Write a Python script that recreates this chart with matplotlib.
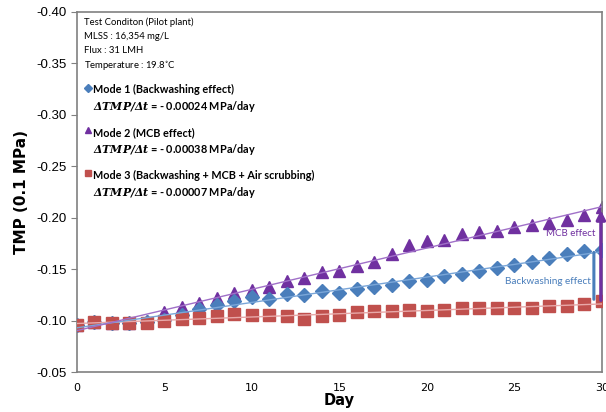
import numpy as np
import matplotlib.pyplot as plt

plt.rcParams['mathtext.fontset'] = 'dejavuserif'

days = list(range(31))
# TMP readings (0.1 MPa)
mode1 = [-0.096, -0.099, -0.098, -0.098, -0.099, -0.101, -0.105, -0.111, -0.115, -0.119,
         -0.123, -0.121, -0.126, -0.125, -0.129, -0.127, -0.131, -0.133, -0.135, -0.138,
         -0.139, -0.143, -0.145, -0.148, -0.151, -0.154, -0.157, -0.161, -0.165, -0.168, -0.169]
mode2 = [-0.096, -0.099, -0.098, -0.098, -0.100, -0.108, -0.113, -0.117, -0.122, -0.127,
         -0.130, -0.133, -0.138, -0.141, -0.147, -0.148, -0.153, -0.157, -0.165, -0.173,
         -0.177, -0.178, -0.184, -0.186, -0.187, -0.191, -0.193, -0.195, -0.198, -0.203, -0.210]
mode3 = [-0.096, -0.099, -0.098, -0.098, -0.098, -0.100, -0.102, -0.103, -0.104, -0.106,
         -0.105, -0.105, -0.104, -0.102, -0.104, -0.105, -0.108, -0.109, -0.109, -0.110,
         -0.109, -0.110, -0.112, -0.112, -0.112, -0.112, -0.112, -0.114, -0.114, -0.116, -0.119]

info = ['Test Conditon (Pilot plant)', 'MLSS : 16,354 mg/L', 'Flux : 31 LMH', 'Temperature : 19.8$^{\\circ}$C']
modes = ['Mode 1 (Backwashing effect)', 'Mode 2 (MCB effect)', 'Mode 3 (Backwashing + MCB + Air scrubbing)']
rates = ['0.00024', '0.00038', '0.00007']

blue, purple, red = '#4a7ebb', '#7030a0', '#c0504d'
blue_l, purple_l, red_l = '#7aa6d8', '#a070c8', '#e8a8a8'
FONT = 'Lato'

fig = plt.figure(figsize=(6.06, 4.12), dpi=100)
ax = fig.add_axes([0.127, 0.097, 0.866, 0.874])

x = np.array(days)
for y, c in [(mode3, red_l), (mode1, blue_l), (mode2, purple_l)]:
    k, b = np.polyfit(x, y, 1)
    ax.plot(x, k * x + b, color=c, lw=1.0, zorder=4)

ax.plot(days, mode2, '^', color=purple, ms=9, mec=purple, zorder=2)
ax.plot(days, mode1, 'D', color=blue, ms=7, mec=blue, zorder=3)
ax.plot(days, mode3, 's', color=red, ms=8.5, mec=red, zorder=3)

# effect arrows at the last day
ax.annotate('', xy=(29.95, mode2[-1]), xytext=(29.95, mode3[-1] + 0.002),
            arrowprops=dict(arrowstyle='-|>', color=purple, lw=2.4, mutation_scale=13), zorder=5)
ax.annotate('', xy=(29.55, mode1[-1]), xytext=(29.55, mode3[-1] + 0.001),
            arrowprops=dict(arrowstyle='-', color=blue, lw=2.2), zorder=5)
ax.text(28.2, -0.1845, 'MCB effect', color=purple, fontsize=7, ha='center', va='center', family=FONT)
ax.text(26.9, -0.1377, 'Backwashing effect', color=blue, fontsize=7.2, ha='center', va='center', family=FONT)

ax.set_xlim(0, 30)
ax.set_ylim(-0.05, -0.40)
ax.set_yticks(np.arange(-0.40, -0.049, 0.05))
ax.set_yticklabels(['%.2f' % v for v in np.arange(-0.40, -0.049, 0.05)], fontsize=9.5, family='Liberation Sans')
ax.set_xticks(range(0, 31, 5))
ax.tick_params(axis='x', length=0, labelsize=8, pad=8)
ax.tick_params(axis='y', length=4, color='#808080', direction='out')
for s in ax.spines.values():
    s.set_color('#808080')
    s.set_linewidth(1.2)

ax.set_xlabel('Day', fontsize=10.5, fontweight='bold', labelpad=0)
ax.set_ylabel('TMP (0.1 MPa)', fontsize=11, fontweight='bold', labelpad=5)

# legend / test condition block
tx = ax.transAxes
for i, t in enumerate(info):
    ax.text(0.013, 0.972 - i * 0.04, t, transform=tx, fontsize=6.8, va='center', family=FONT)
marks = [('D', blue, 3.8), ('^', purple, 4.8), ('s', red, 4.8)]
for i, (m, r, (mk, c, sz)) in enumerate(zip(modes, rates, marks)):
    y0 = 0.784 - i * 0.119
    ax.plot([0.021], [y0 + 0.006], mk, color=c, ms=sz, transform=tx)
    ax.text(0.031, y0, m, transform=tx, fontsize=7.8, fontweight='bold', va='center', family=FONT)
    ax.text(0.031, y0 - 0.047, r'$\mathbfit{\Delta TMP/\Delta t}$ = - ' + r + ' MPa/day',
            transform=tx, fontsize=7.8, fontweight='bold', va='center', family=FONT)

fig.savefig('out.png', dpi=100)
